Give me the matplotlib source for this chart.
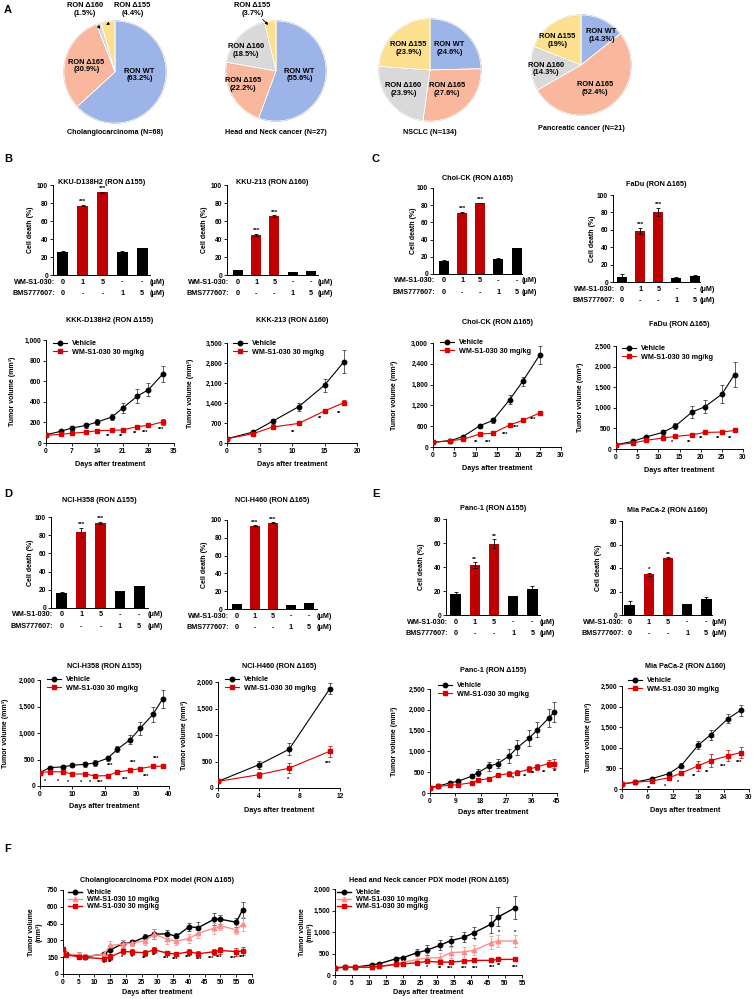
import matplotlib
matplotlib.use('Agg')
import matplotlib.pyplot as plt
import numpy as np
from matplotlib.ticker import FuncFormatter

plt.rcParams['font.family'] = ['Liberation Sans', 'DejaVu Sans']
plt.rcParams['font.weight'] = 'bold'
plt.rcParams['axes.linewidth'] = 0.7

W, H = 753, 999
fig = plt.figure(figsize=(W / 100, H / 100), dpi=100)

# ------------------------------------------------------------------ data
pie_labels = ['RON WT', 'RON Δ165', 'RON Δ160', 'RON Δ155']
pie_colors = ['#9DB4E8', '#F9B89E', '#D9D9D9', '#FDE08F']
pie_edges = ['#7E96CC', '#E29A80', '#BDBDBD', '#E2C46E']
chol_pct = [63.2, 30.9, 1.5, 4.4]
hn_pct = [55.6, 22.2, 18.5, 3.7]
nsclc_pct = [24.6, 27.6, 23.9, 23.9]
panc_pct = [14.3, 52.4, 14.3, 19]
pie_titles = ['Cholangiocarcinoma (N=68)', 'Head and Neck cancer (N=27)',
              'NSCLC (N=134)', 'Pancreatic cancer (N=21)']

wm_doses = ['0', '1', '5', '-', '-']
bms_doses = ['0', '-', '-', '1', '5']
bar_colors = ['black', '#C00000', '#C00000', 'black', 'black']

kku138_death = [26, 77, 92, 26, 30]
kku138_err = [0.8, 0.8, 0.5, 0.3, 0.3]
kku138_sig = ['', '***', '***', '', '']
kku213_death = [5.5, 44.5, 65.5, 3.5, 4.5]
kku213_err = [0.5, 1, 1, 0.3, 0.3]
kku213_sig = ['', '***', '***', '', '']
choick_death = [15, 71.5, 82.5, 18, 30]
choick_err = [1, 1, 0.5, 0.2, 0.2]
choick_sig = ['', '***', '***', '', '']
fadu_death = [5.5, 58.5, 80.5, 5, 6.5]
fadu_err = [3.5, 3.5, 4.5, 1, 1.5]
fadu_sig = ['', '***', '***', '', '']
h358_death = [16, 83, 93.5, 19, 24]
h358_err = [1.5, 5, 1.5, 0.2, 0.2]
h358_sig = ['', '***', '***', '', '']
h460_death = [5.5, 93.5, 97, 4.5, 6.5]
h460_err = [0.5, 0.5, 0.5, 0.2, 0.3]
h460_sig = ['', '***', '***', '', '']
panc1_death = [17.5, 41.5, 59.5, 15.5, 22]
panc1_err = [2, 2.5, 3.5, 0.5, 2.5]
panc1_sig = ['', '**', '**', '', '']
mia_death = [8.5, 34.5, 48.5, 9, 13.5]
mia_err = [3.5, 1.5, 0.5, 0.5, 2]
mia_sig = ['', '*', '**', '', '']

# tumor growth (mm3)
b3_days = [0, 4, 7, 11, 14, 18, 21, 25, 28, 32]
b3_veh = [80, 113, 145, 171, 204, 252, 340, 456, 517, 672]
b3_veh_err = [5, 10, 20, 25, 25, 30, 45, 70, 65, 80]
b3_trt = [75, 83, 95, 105, 120, 123, 127, 160, 170, 205]
b3_trt_err = [5, 5, 8, 10, 10, 10, 10, 15, 15, 30]
b3_sig = [(17, 64, '**'), (20.5, 64, '**'), (24.3, 90, '**'), (27.2, 103, '***'), (31.5, 136, '***')]

b4_days = [0, 4, 7, 11, 15, 18]
b4_veh = [150, 383, 760, 1267, 2023, 2845]
b4_veh_err = [20, 40, 80, 130, 230, 400]
b4_trt = [150, 324, 557, 685, 1120, 1413]
b4_trt_err = [20, 30, 40, 50, 70, 90]
b4_sig = [(10.2, 380, '**'), (14.3, 870, '**'), (17.2, 1045, '**')]

c3_days = [0, 4, 7, 11, 14, 18, 21, 25]
c3_veh = [135, 183, 298, 615, 765, 1370, 1890, 2655]
c3_veh_err = [10, 15, 30, 60, 60, 120, 130, 270]
c3_trt = [135, 183, 221, 375, 395, 637, 765, 980]
c3_trt_err = [10, 15, 20, 30, 20, 30, 40, 60]
c3_sig = [(10.2, 133, '**'), (12.9, 133, '***'), (16.8, 355, '***'), (19.6, 577, '***'), (23.5, 790, '***')]

c4_days = [0, 4, 7, 11, 14, 18, 21, 25, 28]
c4_veh = [104, 184, 290, 402, 555, 900, 1025, 1330, 1808]
c4_veh_err = [10, 20, 25, 60, 70, 140, 160, 220, 300]
c4_trt = [104, 145, 208, 266, 305, 346, 402, 411, 450]
c4_trt_err = [10, 15, 20, 40, 30, 40, 30, 40, 25]
c4_sig = [(13.2, 160, '*'), (17.3, 160, '**'), (20.2, 249, '**'), (24.1, 266, '**'), (27, 266, '**')]

d3_days = [0, 3, 7, 10, 14, 17, 21, 24, 28, 31, 35, 38]
d3_veh = [252, 347, 360, 391, 410, 435, 524, 694, 877, 1085, 1350, 1640]
d3_veh_err = [20, 30, 30, 40, 50, 60, 50, 60, 90, 120, 150, 170]
d3_trt = [252, 271, 265, 227, 227, 189, 196, 265, 297, 328, 372, 372]
d3_trt_err = [20, 30, 20, 20, 15, 15, 20, 20, 25, 25, 25, 25]
d3_sig = [(1.5, 95, '*'), (5.7, 95, '*'), (8.6, 76, '*'), (12.6, 76, '*'), (15.5, 63, '*'),
          (18.8, 63, '***'), (21.9, 379, '***'), (26.3, 126, '***'), (28.9, 442, '***'),
          (33, 183, '***'), (36.1, 517, '***')]

d4_days = [0, 4, 7, 11]
d4_veh = [125, 437, 731, 1875]
d4_veh_err = [30, 70, 110, 100]
d4_trt = [125, 250, 375, 694]
d4_trt_err = [30, 60, 100, 100]
d4_sig = [(6.9, 169, '*'), (10.85, 469, '***')]

e3_days = [0, 3, 7, 10, 15, 17, 21, 24, 28, 31, 35, 38, 42, 44]
e3_veh = [129, 169, 242, 282, 411, 492, 645, 709, 887, 1096, 1314, 1515, 1798, 1943]
e3_veh_err = [15, 30, 30, 30, 50, 80, 110, 110, 160, 180, 190, 180, 220, 240]
e3_trt = [129, 161, 185, 201, 250, 306, 347, 427, 467, 492, 572, 629, 709, 709]
e3_trt_err = [15, 20, 25, 25, 30, 40, 40, 50, 60, 70, 70, 80, 90, 110]
e3_sig = [(29.6, 347, '*'), (33.8, 403, '**'), (36.7, 467, '**'), (40.5, 492, '**'), (44.4, 524, '**')]

e4_days = [0, 3, 7, 11, 14, 18, 21, 25, 28]
e4_veh = [122, 165, 250, 370, 570, 1065, 1320, 1705, 1910]
e4_veh_err = [10, 15, 20, 25, 60, 100, 120, 110, 130]
e4_trt = [122, 165, 195, 270, 385, 565, 690, 805, 885]
e4_trt_err = [10, 15, 20, 25, 40, 120, 150, 130, 140]
e4_sig = [(6.5, 24, '**'), (10.1, 65, '*'), (13.3, 170, '*'), (17, 309, '**'), (20, 406, '**'),
          (23.9, 536, '***'), (27.7, 650, '***')]

f1_days = [0, 1, 5, 7, 13, 15, 19, 22, 26, 29, 33, 36, 40, 43, 48, 50, 55, 57]
f1_veh = [200, 178, 163, 154, 178, 216, 270, 282, 329, 356, 359, 338, 421, 415, 489, 489, 462, 572]
f1_veh_err = [20, 20, 30, 20, 20, 40, 35, 25, 25, 45, 35, 30, 35, 45, 55, 40, 40, 75]
f1_low = [185, 180, 170, 160, 175, 255, 267, 276, 296, 356, 311, 293, 317, 365, 409, 430, 394, 445]
f1_low_err = [20, 20, 25, 20, 20, 40, 35, 30, 40, 45, 40, 35, 40, 40, 50, 40, 40, 60]
f1_high = [222, 172, 154, 148, 136, 154, 202, 196, 190, 216, 187, 178, 199, 181, 199, 210, 200, 205]
f1_high_err = [20, 20, 20, 15, 20, 25, 25, 25, 25, 25, 20, 20, 25, 20, 25, 30, 35, 35]
f1_sig = [(12.9, 92, '*'), (15.1, 107, '**'), (18.8, 151, '*'), (21.9, 151, '*'), (25.7, 136, '**'),
          (28.8, 166, '**'), (32.6, 142, '***'), (35.7, 127, '***'), (39.7, 151, '***'),
          (43.1, 127, '***'), (47.1, 142, '***'), (49.7, 151, '***'), (54, 142, '***'), (56.9, 151, '***')]

f2_days = [0, 3, 6, 11, 13, 18, 20, 24, 27, 31, 34, 38, 41, 46, 48, 53]
f2_veh = [166, 182, 182, 237, 261, 379, 403, 514, 577, 695, 798, 877, 988, 1185, 1351, 1564]
f2_veh_err = [20, 20, 20, 30, 30, 40, 40, 80, 110, 110, 120, 120, 130, 200, 220, 270]
f2_low = [166, 182, 182, 182, 198, 261, 300, 356, 395, 403, 521, 537, 577, 751, 790, 790]
f2_low_err = [20, 20, 20, 20, 20, 40, 60, 80, 120, 100, 120, 110, 120, 150, 150, 150]
f2_high = [166, 182, 182, 182, 198, 245, 261, 284, 316, 300, 300, 324, 340, 340, 363, 363]
f2_high_err = [20, 20, 20, 20, 20, 30, 30, 40, 40, 40, 30, 40, 40, 40, 40, 40]
f2_sig = [(27, 166, '*'), (30.9, 142, '**'), (34, 142, '***'), (38, 142, '***'), (41.2, 142, '***'),
          (46.2, 182, '***'), (48.4, 221, '**'), (53.1, 182, '***'),
          (31.1, 640, '*'), (38, 853, '*'), (41.2, 798, '*'), (48.2, 995, '*'), (53.1, 995, '*')]

RED = '#DD0000'
PINK = '#FF8C8C'
FS = 5.2

# ------------------------------------------------------------------ helpers
def add_ax(box):
    l, t, r, b = box
    return fig.add_axes([l / W, 1 - b / H, (r - l) / W, (b - t) / H])


def ftext(x, y, s, **kw):
    kw.setdefault('fontsize', FS)
    kw.setdefault('ha', 'center')
    kw.setdefault('va', 'center')
    fig.text(x / W, 1 - y / H, s, **kw)


def style(ax):
    for s in ('top', 'right'):
        ax.spines[s].set_visible(False)
    ax.tick_params(direction='out', length=2, width=0.6, labelsize=4.8, pad=1.5)


def pie_panel(cx, cy, r, pct, title, title_y, inside, outside):
    ax = add_ax((cx - r, cy - r, cx + r, cy + r))
    wedges, _ = ax.pie(pct, colors=pie_colors, startangle=90, counterclock=False,
                       wedgeprops=dict(linewidth=0.9))
    for w, ec in zip(wedges, pie_edges):
        w.set_edgecolor(ec)
    ax.pie(pct, colors=['none'] * 4, startangle=90, counterclock=False,
           wedgeprops=dict(edgecolor='white', linewidth=0.6, fill=False))
    ax.set_xlim(-1.02, 1.02)
    ax.set_ylim(-1.02, 1.02)
    ax.set_aspect('equal')
    ax.axis('off')
    for idx, (x, y) in inside.items():
        ax.text((x - cx) / r, (cy - y) / r, f'{pie_labels[idx]}\n({pct[idx]:g}%)',
                ha='center', va='center', fontsize=5.4, linespacing=1.15)
    for idx, (x, y, ax1, ay1) in outside.items():
        ax.annotate(f'{pie_labels[idx]}\n({pct[idx]:g}%)',
                    xy=((ax1 - cx) / r, (cy - ay1) / r), xytext=((x - cx) / r, (cy - y) / r),
                    ha='center', va='center', fontsize=5.4, linespacing=1.15,
                    arrowprops=dict(arrowstyle='-|>', lw=0.6, color='black', mutation_scale=4,
                                    shrinkA=6, shrinkB=0))
    ftext(cx, title_y, title)


def bar_panel(box, title, title_y, vals, errs, sig, ylim, yticks, xlim, ylab_x):
    ax = add_ax(box)
    style(ax)
    x = np.arange(len(vals))
    ax.bar(x, vals, width=0.55, color=bar_colors, yerr=errs,
           error_kw=dict(elinewidth=0.6, capsize=1.4, capthick=0.6, ecolor='black'))
    ax.set_xlim(*xlim)
    ax.set_ylim(*ylim)
    ax.set_yticks(yticks)
    ax.set_xticks([])
    for xi, v, e, s in zip(x, vals, errs, sig):
        if s:
            ax.annotate(s, (xi, v + e), xytext=(0, 0.5), textcoords='offset points',
                        ha='center', va='bottom', fontsize=4.5)
    for row, (lab, doses) in enumerate([('WM-S1-030:', wm_doses), ('BMS777607:', bms_doses)]):
        dy = -(7 + 11.5 * row) * 0.72
        ax.annotate(lab, (0, 0), xycoords='axes fraction', xytext=(1.5, dy),
                    textcoords='offset points', ha='right', va='center', fontsize=FS)
        for xi, d in zip(x, doses):
            ax.annotate(d, (xi, 0), xycoords=('data', 'axes fraction'), xytext=(0, dy),
                        textcoords='offset points', ha='center', va='center', fontsize=FS)
        ax.annotate('(μM)', (1, 0), xycoords='axes fraction', xytext=(0, dy),
                    textcoords='offset points', ha='left', va='center', fontsize=FS)
    l, t, r, b = box
    ftext((l + r) / 2, title_y, title)
    ftext(ylab_x, (t + b) / 2, 'Cell death (%)', rotation=90, fontsize=5)
    return ax


def line_panel(box, title, title_y, xlim, xticks, ylim, yticks, series, sig, leg_xy,
               xlab_y, ylab_x, ylabel='Tumor volume (mm³)', leg_spacing=0.2, lw=0.8, ms=3.2):
    ax = add_ax(box)
    style(ax)
    handles = []
    for days, vals, errs, color, marker, label in series:
        ax.errorbar(days, vals, yerr=errs, fmt='none', ecolor='#333333' if color == 'black' else color,
                    elinewidth=0.55, capsize=1.4, capthick=0.55, zorder=2)
        h, = ax.plot(days, vals, color=color, marker=marker, ms=ms, lw=lw, label=label, zorder=3)
        handles.append(h)
    for x, y, s in sig:
        ax.text(x, y, s, ha='center', va='center', fontsize=4)
    ax.set_xlim(*xlim)
    ax.set_ylim(*ylim)
    ax.set_xticks(xticks)
    ax.set_yticks(yticks)
    ax.yaxis.set_major_formatter(FuncFormatter(lambda v, p: f'{int(v):,}'))
    ax.legend(handles=handles, loc='upper left', bbox_to_anchor=(leg_xy[0] / W, 1 - leg_xy[1] / H),
              bbox_transform=fig.transFigure, frameon=False, fontsize=FS, borderaxespad=0,
              borderpad=0, handlelength=2.0, handletextpad=0.6, labelspacing=leg_spacing, numpoints=1)
    l, t, r, b = box
    ftext((l + r) / 2, title_y, title)
    ftext((l + r) / 2, xlab_y, 'Days after treatment')
    ftext(ylab_x, (t + b) / 2, ylabel, rotation=90, fontsize=5, linespacing=1.1)
    return ax


def two(v, e, v2, e2, d):
    return [(d, v, e, 'black', 'o', 'Vehicle'), (d, v2, e2, RED, 's', 'WM-S1-030 30 mg/kg')]


# ------------------------------------------------------------------ panel letters
for letter, (x, y) in {'A': (8, 10), 'B': (8, 159), 'C': (376, 159), 'D': (8, 494),
                       'E': (376, 494), 'F': (8, 849)}.items():
    ftext(x, y, letter, fontsize=8)

# ------------------------------------------------------------------ A: pies
pie_panel(115, 72, 52, chol_pct, pie_titles[0], 133,
          {0: (140, 75), 1: (86, 66)},
          {2: (84, 8, 100, 28), 3: (133, 8, 106, 24)})
pie_panel(276, 71, 51, hn_pct, pie_titles[1], 133,
          {0: (300, 75), 1: (242, 85), 2: (245, 50)},
          {3: (252, 8, 268, 24)})
pie_panel(430, 70, 52, nsclc_pct, pie_titles[2], 133,
          {0: (450, 48), 1: (447, 90), 2: (403, 90), 3: (408, 48)}, {})
pie_panel(581, 65, 51, panc_pct, pie_titles[3], 129,
          {0: (602, 35), 1: (595, 89), 2: (545, 69), 3: (557, 40)}, {})

# ------------------------------------------------------------------ bars
y100 = [0, 20, 40, 60, 80, 100]
y80 = [0, 20, 40, 60, 80]
bar_panel((53, 185, 150, 275), 'KKU-D138H2 (RON Δ155)', 183, kku138_death, kku138_err, kku138_sig,
          (0, 100), y100, (-0.5, 4.4), 31)
bar_panel((227, 185, 318, 275), 'KKU-213 (RON Δ160)', 183, kku213_death, kku213_err, kku213_sig,
          (0, 100), y100, (-0.6, 4.4), 205)
bar_panel((433, 188, 522, 274), 'Choi-CK (RON Δ165)', 179, choick_death, choick_err, choick_sig,
          (0, 100), y100, (-0.6, 4.3), 414)
bar_panel((613, 195, 700, 282), 'FaDu (RON Δ165)', 185, fadu_death, fadu_err, fadu_sig,
          (0, 100), y100, (-0.5, 4.3), 592)
bar_panel((51, 517, 148, 608), 'NCI-H358 (RON Δ155)', 500, h358_death, h358_err, h358_sig,
          (0, 100), y100, (-0.55, 4.45), 30)
bar_panel((227, 520, 317, 609), 'NCI-H460 (RON Δ165)', 501, h460_death, h460_err, h460_sig,
          (0, 100), y100, (-0.55, 4.45), 205)
bar_panel((446, 519, 540, 615), 'Panc-1 (RON Δ155)', 509, panc1_death, panc1_err, panc1_sig,
          (0, 80), y80, (-0.5, 4.4), 422)
bar_panel((622, 521, 712, 615), 'Mia PaCa-2 (RON Δ160)', 511, mia_death, mia_err, mia_sig,
          (0, 80), y80, (-0.4, 4.3), 598)

# ------------------------------------------------------------------ tumor growth
line_panel((46, 340, 174, 443), 'KKK-D138H2 (RON Δ155)', 321, (0, 35), list(range(0, 36, 7)),
           (0, 1000), list(range(0, 1001, 200)), two(b3_veh, b3_veh_err, b3_trt, b3_trt_err, b3_days),
           b3_sig, (53, 340), 464, 13)
line_panel((227, 343, 357, 443), 'KKK-213 (RON Δ160)', 320, (0, 20), list(range(0, 21, 5)),
           (0, 3500), list(range(0, 3501, 700)), two(b4_veh, b4_veh_err, b4_trt, b4_trt_err, b4_days),
           b4_sig, (233, 340), 464, 190)
line_panel((433, 343, 561, 447), 'Choi-CK (RON Δ165)', 323, (0, 30), list(range(0, 31, 5)),
           (0, 3000), list(range(0, 3001, 600)), two(c3_veh, c3_veh_err, c3_trt, c3_trt_err, c3_days),
           c3_sig, (440, 339), 468, 394)
line_panel((616, 346, 743, 449), 'FaDu (RON Δ165)', 325, (0, 30), list(range(0, 31, 5)),
           (0, 2500), list(range(0, 2501, 500)), two(c4_veh, c4_veh_err, c4_trt, c4_trt_err, c4_days),
           c4_sig, (622, 345), 471, 580)
line_panel((40, 680, 169, 786), 'NCI-H358 (RON Δ155)', 666, (0, 40), list(range(0, 41, 10)),
           (0, 2000), list(range(0, 2001, 500)), two(d3_veh, d3_veh_err, d3_trt, d3_trt_err, d3_days),
           d3_sig, (47, 676), 807, 6)
line_panel((218, 682, 340, 788), 'NCI-H460 (RON Δ165)', 667, (0, 12), list(range(0, 13, 4)),
           (0, 2000), list(range(0, 2001, 500)), two(d4_veh, d4_veh_err, d4_trt, d4_trt_err, d4_days),
           d4_sig, (225, 676), 811, 184)
line_panel((430, 689, 557, 793), 'Panc-1 (RON Δ155)', 671, (0, 45), list(range(0, 46, 9)),
           (0, 2500), list(range(0, 2501, 500)), two(e3_veh, e3_veh_err, e3_trt, e3_trt_err, e3_days),
           e3_sig, (438, 682), 813, 395)
line_panel((622, 686, 749, 789), 'Mia PaCa-2 (RON Δ160)', 666, (0, 30), list(range(0, 31, 6)),
           (0, 2500), list(range(0, 2501, 500)), two(e4_veh, e4_veh_err, e4_trt, e4_trt_err, e4_days),
           e4_sig, (628, 677), 811, 588)

f_series1 = [(f1_days, f1_veh, f1_veh_err, 'black', 'o', 'Vehicle'),
             (f1_days, f1_low, f1_low_err, PINK, '^', 'WM-S1-030 10 mg/kg'),
             (f1_days, f1_high, f1_high_err, RED, 's', 'WM-S1-030 30 mg/kg')]
f_series2 = [(f2_days, f2_veh, f2_veh_err, 'black', 'o', 'Vehicle'),
             (f2_days, f2_low, f2_low_err, PINK, '^', 'WM-S1-030 10 mg/kg'),
             (f2_days, f2_high, f2_high_err, RED, 's', 'WM-S1-030 30 mg/kg')]
line_panel((63, 890, 252, 974), 'Cholangiocarcinoma PDX model (RON Δ165)', 881, (0, 60),
           list(range(0, 61, 5)), (0, 750), list(range(0, 751, 150)), f_series1, f1_sig,
           (68, 889), 993, 35, ylabel='Tumor volume\n(mm³)', leg_spacing=0.02, lw=1.0)
line_panel((335, 889, 522, 975), 'Head and Neck cancer PDX model (RON Δ165)', 880, (0, 55),
           list(range(0, 56, 5)), (0, 2000), list(range(0, 2001, 500)), f_series2, f2_sig,
           (337, 889), 993, 306, ylabel='Tumor volume\n(mm³)', leg_spacing=0.02, lw=1.0)

fig.savefig('out.png', dpi=100)
